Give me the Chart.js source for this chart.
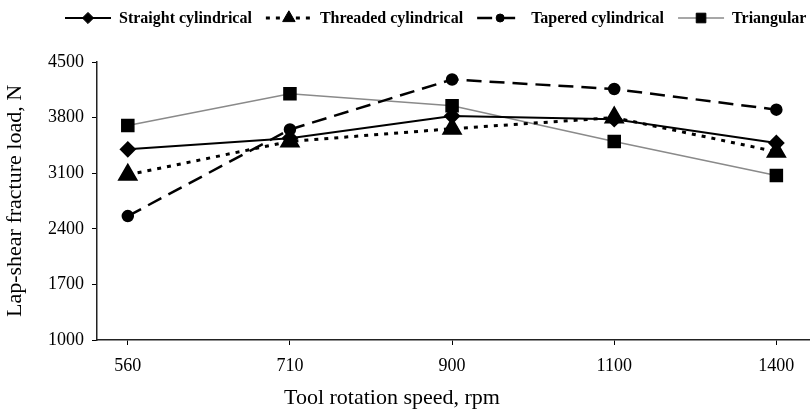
<!DOCTYPE html>
<html>
<head>
<meta charset="utf-8">
<script src="https://cdn.jsdelivr.net/npm/chart.js@4/dist/chart.umd.min.js"></script>
<style>
  html, body { margin: 0; padding: 0; background: #fff; overflow: hidden; }
  #wrap { width: 845px; height: 410px; }
</style>
</head>
<body>
<div id="wrap"><canvas id="chart"></canvas></div>
<script>
const rpmLabels = ["560", "710", "900", "1100", "1400"];
const straightCyl = [3400, 3540, 3820, 3780, 3480];
const threadedCyl = [3080, 3500, 3660, 3800, 3370];
const taperedCyl = [2560, 3650, 4280, 4160, 3900];
const triangular = [3700, 4100, 3950, 3500, 3070];
const yTicks = [1000, 1700, 2400, 3100, 3800, 4500];
const xTitle = "Tool rotation speed, rpm";

const FONT = "'Liberation Serif', 'Times New Roman', serif";

function toPoints(values) {
  return values.map((v, i) => ({ x: i, y: v }));
}

// legend drawn by hand so each sample shows line style + marker like the original
// the x title is drawn here too, it sits left of the plot centre in the original
const lineLegend = {
  id: "lineLegend",
  afterDraw(chart) {
    const ctx = chart.ctx;
    const drawPoint = Chart.helpers && Chart.helpers.drawPoint;
    let x = 65;
    const y = 18;
    ctx.save();
    ctx.font = "bold 16px " + FONT;
    ctx.textBaseline = "middle";
    chart.data.datasets.forEach((ds) => {
      const w = 46;
      ctx.strokeStyle = ds.borderColor;
      ctx.lineWidth = ds.borderWidth;
      ctx.setLineDash(ds.borderDash || []);
      ctx.beginPath();
      ctx.moveTo(x, y);
      ctx.lineTo(x + w, y);
      ctx.stroke();
      ctx.setLineDash([]);
      ctx.fillStyle = "#000";
      ctx.strokeStyle = "#000";
      ctx.lineWidth = 1;
      if (drawPoint) {
        drawPoint(ctx, { pointStyle: ds.pointStyle, radius: ds.pointRadius * 0.8, rotation: 0, borderWidth: 1 }, x + w / 2, y);
      }
      ctx.fillStyle = "#000";
      ctx.fillText(ds.label, x + w + 8, y + 1);
      x += w + 8 + ctx.measureText(ds.label).width + 14;
    });

    ctx.font = "22px " + FONT;
    ctx.textAlign = "center";
    ctx.fillText(xTitle, 392, 398);
    ctx.restore();
  },
};

new Chart(document.getElementById("chart"), {
  type: "line",
  data: {
    datasets: [
      {
        label: "Straight cylindrical",
        data: toPoints(straightCyl),
        borderColor: "#000",
        borderWidth: 2,
        pointStyle: "rectRot",
        pointRadius: 7,
        pointBackgroundColor: "#000",
        pointBorderColor: "#000",
      },
      {
        label: "Threaded cylindrical",
        data: toPoints(threadedCyl),
        borderColor: "#000",
        borderWidth: 3,
        borderDash: [4, 6],
        pointStyle: "triangle",
        pointRadius: 9,
        pointBackgroundColor: "#000",
        pointBorderColor: "#000",
      },
      {
        label: "Tapered cylindrical",
        data: toPoints(taperedCyl),
        borderColor: "#000",
        borderWidth: 2.5,
        borderDash: [15, 8],
        pointStyle: "circle",
        pointRadius: 5,
        pointBackgroundColor: "#000",
        pointBorderColor: "#000",
      },
      {
        label: "Triangular",
        data: toPoints(triangular),
        borderColor: "#8a8a8a",
        borderWidth: 1.5,
        pointStyle: "rect",
        pointRadius: 8.5,
        pointBackgroundColor: "#000",
        pointBorderColor: "#000",
      },
    ],
  },
  options: {
    responsive: true,
    maintainAspectRatio: false,
    animation: false,
    devicePixelRatio: 1,
    layout: { padding: { top: 62, right: 20, left: 0, bottom: 0 } },
    elements: { line: { tension: 0 }, point: { borderWidth: 1 } },
    plugins: {
      legend: { display: false },
      tooltip: { enabled: false },
    },
    scales: {
      x: {
        type: "linear",
        min: -0.19,
        max: 4.3,
        afterBuildTicks: (scale) => {
          scale.ticks = rpmLabels.map((_, i) => ({ value: i }));
        },
        afterFit: (scale) => {
          scale.height = 70;
        },
        ticks: {
          color: "#000",
          font: { family: FONT, size: 18 },
          padding: 10,
          maxRotation: 0,
          callback: (value) => rpmLabels[value],
        },
        grid: {
          drawOnChartArea: false,
          drawTicks: true,
          tickLength: 5,
          color: "#000",
        },
        border: { color: "#222", width: 1.5 },
      },
      y: {
        min: 1000,
        max: 4500,
        afterBuildTicks: (scale) => {
          scale.ticks = yTicks.map((v) => ({ value: v }));
        },
        afterFit: (scale) => {
          scale.width = 97;
        },
        ticks: {
          color: "#000",
          font: { family: FONT, size: 18 },
          padding: 8,
          callback: (value) => String(value),
        },
        grid: {
          drawOnChartArea: false,
          drawTicks: true,
          tickLength: 5,
          color: "#000",
        },
        border: { color: "#222", width: 1.5 },
        title: {
          display: true,
          text: "Lap-shear fracture load, N",
          color: "#000",
          font: { family: FONT, size: 22 },
          padding: { top: 2, bottom: 4 },
        },
      },
    },
  },
  plugins: [lineLegend],
});
</script>
</body>
</html>
